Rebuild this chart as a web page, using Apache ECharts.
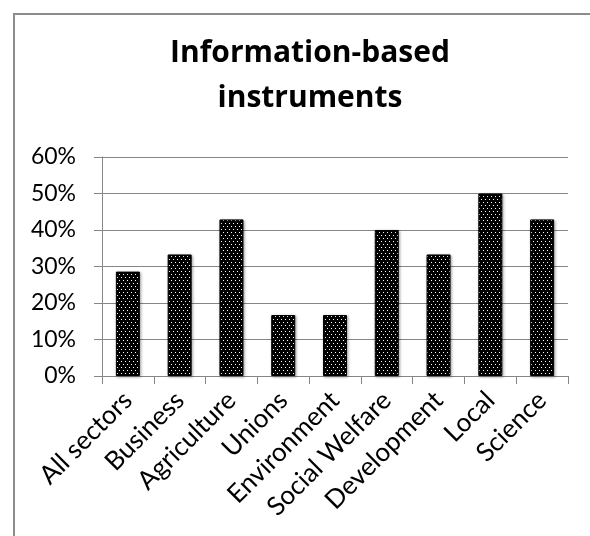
<!DOCTYPE html>
<html>
<head>
<meta charset="utf-8">
<script src="https://cdn.jsdelivr.net/npm/echarts@6/dist/echarts.min.js"></script>
<style>
html,body{margin:0;padding:0;background:#fff;}
#frame{position:absolute;left:13px;top:13px;width:600px;height:600px;border:2px solid #8c8c8c;box-sizing:border-box;}
#chart{position:absolute;left:0;top:0;width:590px;height:536px;}
</style>
</head>
<body>
<div id="frame"></div>
<div id="chart"></div>
<script>
const titleText = "Information-based\ninstruments";
const categories = ["All sectors","Business","Agriculture","Unions","Environment","Social Welfare","Development","Local","Science"];
const values = [0.286, 0.333, 0.429, 0.167, 0.167, 0.40, 0.333, 0.50, 0.429];
const yMin = 0, yMax = 0.6, yStep = 0.1;

function makePattern(){
  const c = document.createElement('canvas');
  c.width = 4; c.height = 6;
  const ctx = c.getContext('2d');
  ctx.fillStyle = '#000';
  ctx.fillRect(0,0,4,6);
  ctx.fillStyle = '#ffffff';
  ctx.fillRect(1,1,1,1);
  ctx.fillRect(3,4,1,1);
  return c;
}

const chart = echarts.init(document.getElementById('chart'), null, {renderer:'canvas'});
const FONT = 'Lato';
chart.setOption({
  animation:false,
  backgroundColor:'transparent',
  title:{
    text:titleText,
    left:305, top:26, textAlign:'center',
    textStyle:{fontFamily:'Open Sans', fontWeight:'bold', fontSize:30, color:'#000', lineHeight:45}
  },
  grid:{left:102, right:22, top:157, bottom:160, containLabel:false},
  xAxis:{
    type:'category',
    data:categories,
    axisLine:{lineStyle:{color:'#868686', width:1}},
    axisTick:{show:true, alignWithLabel:false, length:8, lineStyle:{color:'#868686'}},
    axisLabel:{rotate:45, interval:0, margin:20, fontFamily:FONT, fontSize:26, color:'#000'}
  },
  yAxis:{
    type:'value',
    min:yMin, max:yMax, interval:yStep,
    axisLine:{show:true, lineStyle:{color:'#868686', width:1}},
    axisTick:{show:true, length:8, lineStyle:{color:'#868686'}},
    splitLine:{show:true, lineStyle:{color:'#868686', width:1}},
    axisLabel:{margin:26, fontFamily:FONT, fontSize:23, color:'#000',
      formatter:v => Math.round(v*100) + '%'}
  },
  series:[{
    type:'bar',
    data:values,
    barWidth:24,
    itemStyle:{
      color:{image:makePattern(), repeat:'repeat'},
      borderColor:'#000', borderWidth:1,
      shadowColor:'rgba(0,0,0,0.35)', shadowBlur:3, shadowOffsetX:1, shadowOffsetY:1
    }
  }]
});
</script>
</body>
</html>
